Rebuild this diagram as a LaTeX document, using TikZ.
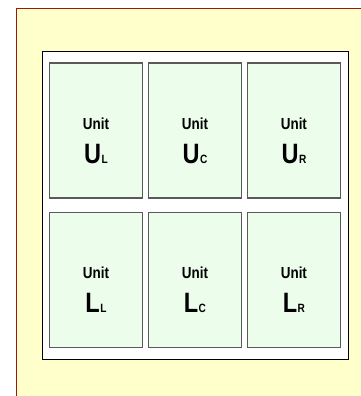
\documentclass[tikz,border=0pt]{standalone}
\usepackage{fontspec}
\setmainfont[FakeStretch=0.84]{Liberation Sans}
\usepackage{tikz}
\usetikzlibrary{positioning, fit, backgrounds}

\begin{document}
\begin{tikzpicture}[
    x=1pt, y=-1pt,
    node distance=13pt and 4.25pt,
    every node/.style={
        font=\bfseries
    },
    cell/.style={
        draw=cellline,
        fill=cellcolor,
        line width=1.2pt,
        rectangle,
        inner sep=0pt,
        minimum width=93.5pt,
        minimum height=135pt
    },
    unitword/.style={
        anchor=base,
        inner sep=0pt,
        font=\bfseries\fontsize{16}{16}\selectfont
    },
    unitname/.style={
        anchor=base,
        inner sep=0pt,
        font=\bfseries\fontsize{28}{28}\selectfont
    }
]

%--- Color Definitions ---%
\definecolor{paper}{RGB}{255,255,204}
\definecolor{paperline}{RGB}{160,20,20}
\definecolor{cellcolor}{RGB}{236,253,236}
\definecolor{cellline}{RGB}{90,90,90}

\useasboundingbox (0,0) rectangle (361,396);

%-----------------------------------------------
% ROW 1: Upper units
%-----------------------------------------------
\node[cell] at (96,130.5) (ul) {};
\node[cell, right=of ul] (uc) {};
\node[cell, right=of uc] (ur) {};

%-----------------------------------------------
% ROW 2: Lower units
%-----------------------------------------------
\node[cell, below=of ul] (ll) {};
\node[cell, below=of uc] (lc) {};
\node[cell, below=of ur] (lr) {};

%-----------------------------------------------
% LABELS
%-----------------------------------------------
\foreach \c/\m/\s in {ul/U/L, uc/U/C, ur/U/R, ll/L/L, lc/L/C, lr/L/R}{
    \node[unitword] (\c-word) at ([yshift=1.5pt]\c.center) {Unit};
    \node[unitname] (\c-name) at ([yshift=-32.5pt]\c.center)
        {\m\kern0.5pt{\fontsize{12}{12}\selectfont\s}};
}

%-----------------------------------------------
% SHEET and WHITE FRAME behind the units
%-----------------------------------------------
\begin{pgfonlayer}{background}
    % outer sheet, cut at the right and bottom
    \fill[paper] (16,8) rectangle (362,397);
    \draw[paperline, line width=0.9pt] (16,397) -- (16,8) -- (362,8);

    \draw[fill=white, line width=1.2pt]
        ([xshift=-6pt, yshift=11pt]  ul.north west) rectangle
        ([xshift=7pt,  yshift=-12pt] lr.south east);
\end{pgfonlayer}

\end{tikzpicture}
\end{document}
